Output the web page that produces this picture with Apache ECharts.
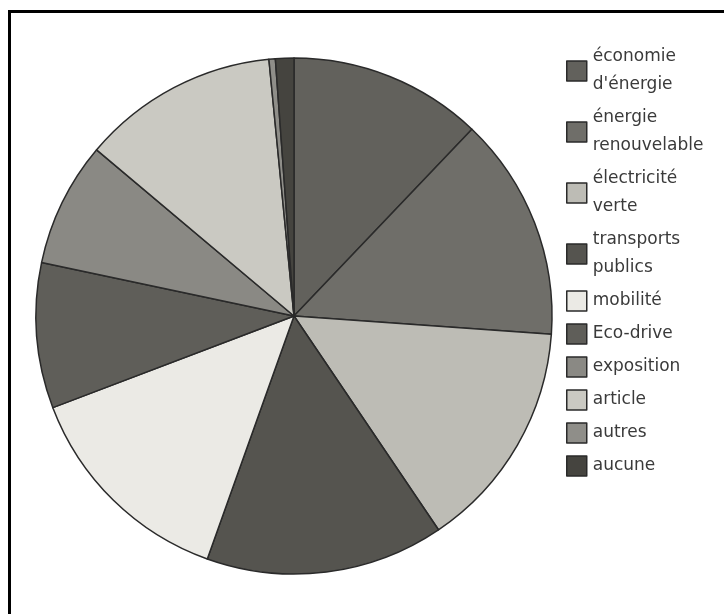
<!DOCTYPE html>
<html>
<head>
<meta charset="utf-8">
<script src="https://cdn.jsdelivr.net/npm/echarts@6/dist/echarts.min.js"></script>
<style>html,body{margin:0;padding:0;background:#fff;}#c{width:724px;height:614px;}</style>
</head>
<body>
<div id="c"></div>
<script>
const categories = ["économie\nd'énergie", "énergie\nrenouvelable", "électricité\nverte", "transports\npublics", "mobilité", "Eco-drive", "exposition", "article", "autres", "aucune"];
const values = [12.1, 14.0, 14.4, 14.9, 13.75, 9.1, 7.8, 12.3, 0.4, 1.15];
const colors = ["#62615c", "#6f6e69", "#bdbcb5", "#55544f", "#ebeae5", "#5f5e59", "#8a8984", "#cac9c2", "#8f8e89", "#45443f"];

const chart = echarts.init(document.getElementById('c'), null, {renderer: 'canvas'});
chart.setOption({
  backgroundColor: '#fff',
  animation: false,
  graphic: [{
    type: 'rect',
    shape: {x: 9.5, y: 11.5, width: 800, height: 700},
    style: {fill: 'none', stroke: '#000', lineWidth: 3},
    silent: true
  }],
  legend: {
    orient: 'vertical',
    left: 561,
    top: 38,
    icon: 'rect',
    itemWidth: 20,
    itemHeight: 20,
    itemGap: 5,
    textStyle: {
      fontFamily: 'DejaVu Sans',
      fontSize: 17,
      color: '#3a3a3a',
      lineHeight: 28,
      padding: [0, 0, 0, 1]
    },
    itemStyle: {borderColor: '#2a2a2a', borderWidth: 1.5},
    data: categories
  },
  series: [{
    type: 'pie',
    center: [294, 316],
    radius: 258,
    startAngle: 90,
    clockwise: true,
    label: {show: false},
    labelLine: {show: false},
    itemStyle: {borderColor: '#2a2a2a', borderWidth: 1.5},
    emphasis: {disabled: true},
    data: categories.map((n, i) => ({name: n, value: values[i], itemStyle: {color: colors[i]}}))
  }]
});
</script>
</body>
</html>
